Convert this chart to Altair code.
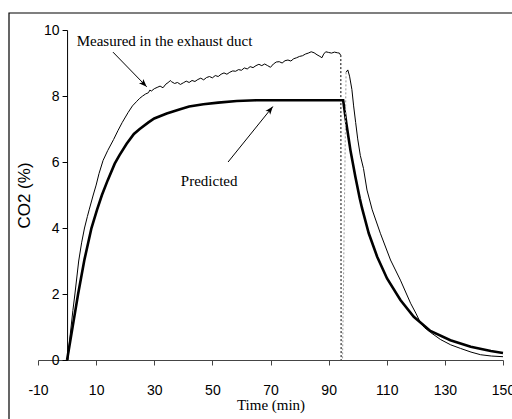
import math
import altair as alt
import pandas as pd

# ---------------- data ----------------
# Measured CO2 in the exhaust duct: rise + plateau
meas_rise_t = [0.3, 1, 2, 2.7, 4, 5, 6, 7, 7.6, 9, 10, 11, 12.4, 14, 16, 17.5, 19, 21, 22.5,
               24, 25, 26, 27, 28, 28.5, 29, 30, 31, 32, 33, 34, 35, 35.5, 36, 37, 38, 39, 40,
               41, 42, 43, 44, 45, 46, 47, 48, 49, 50, 51, 52, 53, 54, 55, 56, 57, 58, 59, 60,
               61, 62, 63, 64, 65, 66, 67, 68, 69, 70, 71, 72, 73, 74, 75, 76, 77, 78, 79, 80,
               81, 82, 83, 84, 85, 86, 87, 87.7, 88.3, 89, 90, 91, 92, 93, 93.7, 94.1]
meas_rise_v = [0.0, 0.7, 1.5, 2.0, 3.0, 3.55, 4.0, 4.35, 4.55, 5.0, 5.3, 5.65, 6.05, 6.35, 6.68,
               6.95, 7.2, 7.5, 7.7,
               7.84, 7.93, 8.0, 8.06, 8.1, 8.18, 8.15, 8.22, 8.26, 8.3, 8.25, 8.36, 8.42, 8.47,
               8.43, 8.38, 8.41, 8.35, 8.4, 8.45, 8.41, 8.47, 8.44, 8.5, 8.54, 8.49, 8.56, 8.59,
               8.55, 8.62, 8.59, 8.66, 8.7, 8.66, 8.72, 8.76, 8.75, 8.8, 8.78, 8.85, 8.82, 8.89,
               8.86, 8.92, 8.96, 8.92, 8.97, 8.92, 8.87, 8.97, 9.03, 9.04, 9.0, 9.07, 9.09,
               9.06, 9.13, 9.16, 9.2, 9.22, 9.27, 9.3, 9.34, 9.31, 9.25, 9.2, 9.16, 9.27, 9.34,
               9.32, 9.3, 9.33, 9.31, 9.3, 9.24]
# Measured CO2: decay after the burner stop
meas_fall_t = [96.0, 96.6, 97.2, 98.0, 98.6, 99.3, 100.0, 100.9, 102.0, 103.2, 105.0, 107.8,
               111.3, 114.7, 118.2, 120.0, 121.6, 123.0, 125.0, 128.5, 132.0, 135.4, 139.0,
               142.3, 146.0, 150.0]
meas_fall_v = [8.72, 8.79, 8.6, 8.2, 7.7, 7.2, 6.7, 6.2, 5.8, 5.15, 4.55, 3.84, 3.03, 2.42,
               1.72, 1.42, 1.13, 0.98, 0.84, 0.62, 0.46, 0.35, 0.24, 0.16, 0.12, 0.1]
# dotted transition segments of the measured record
gap_black_t = [94.2, 94.3]
gap_black_v = [9.24, 0.0]
gap_grey_t = [94.8, 96.0]
gap_grey_v = [0.05, 8.72]

# Predicted CO2
pred_t = [0, 2, 3.8, 6, 8.4, 10.3, 12, 14, 16.4, 18, 20.5, 23, 25, 28, 30, 34.3, 38.9, 42,
          46.9, 52, 58.4, 65, 80, 95.0, 96.1, 97.5, 99.2, 100.7, 101.5, 103.8, 106.7, 110.1,
          114.7, 119.3, 125.0, 131.9, 138.9, 145.8, 150.0]
pred_v = [0, 1.05, 2.0, 3.05, 4.0, 4.55, 5.0, 5.45, 5.95, 6.2, 6.55, 6.85, 7.0, 7.2, 7.32,
          7.47, 7.6, 7.68, 7.75, 7.8, 7.85, 7.87, 7.87, 7.87, 7.17, 6.36, 5.55, 4.9, 4.6, 3.84,
          3.13, 2.47, 1.82, 1.31, 0.88, 0.6, 0.4, 0.27, 0.21]

# annotations
ann_text = ["Measured in the exhaust duct", "Predicted"]
ann_t = [3.3, 48.9]
ann_v = [9.52, 5.42]
arrow_t0 = [15.8, 55.4]
arrow_v0 = [9.33, 6.0]
arrow_t1 = [27.4, 70.8]
arrow_v1 = [8.28, 7.68]

x_ticks = [-10, 10, 30, 50, 70, 90, 110, 130, 150]
y_ticks = [0, 2, 4, 6, 8, 10]
x_domain = [-10, 150]
y_domain = [0, 10]

# ---------------- layout ----------------
W, H = 465, 330
px_per_t = W / (x_domain[1] - x_domain[0])
px_per_v = H / (y_domain[1] - y_domain[0])
yaxis_offset = -(0 - x_domain[0]) * px_per_t

TICKF = "'Liberation Sans', Arial, sans-serif"
SERIF = "'Liberation Serif', 'Times New Roman', serif"
SANS = "'Liberation Sans', Arial, sans-serif"

xs = alt.Scale(domain=x_domain, nice=False, zero=False)
ys = alt.Scale(domain=y_domain, nice=False)

X = alt.X("t:Q", scale=xs, axis=alt.Axis(
    values=x_ticks, grid=False, title="Time (min)", tickSize=5, labelPadding=18,
    labelExpr="'' + datum.value",
    labelFont=TICKF, labelFontSize=14, labelColor="black", domainColor="#444",
    tickColor="#444", titleFont=SERIF, titleFontSize=15, titleFontWeight="normal",
    titleColor="black", titlePadding=0, labelFlush=False, labelOverlap=False))
Y = alt.Y("v:Q", scale=ys, axis=alt.Axis(
    values=y_ticks, grid=False, title="CO2 (%)", offset=yaxis_offset, tickSize=5,
    labelPadding=3, labelFont=TICKF, labelFontSize=14, labelColor="black",
    domainColor="black", tickColor="black", titleFont=SANS, titleFontSize=17,
    titleFontWeight="normal", titleColor="black", titlePadding=10, labelFlush=False))

meas_df = pd.DataFrame({
    "t": meas_rise_t + meas_fall_t,
    "v": meas_rise_v + meas_fall_v,
    "seg": ["rise"] * len(meas_rise_t) + ["fall"] * len(meas_fall_t),
})
pred_df = pd.DataFrame({"t": pred_t, "v": pred_v})
black_df = pd.DataFrame({"t": gap_black_t, "v": gap_black_v})
grey_df = pd.DataFrame({"t": gap_grey_t, "v": gap_grey_v})
ann_df = pd.DataFrame({"t": ann_t, "v": ann_v, "label": ann_text})

arr_rows = []
for i in range(len(arrow_t0)):
    arr_rows.append({"t": arrow_t0[i], "v": arrow_v0[i], "a": i, "o": 0})
    arr_rows.append({"t": arrow_t1[i], "v": arrow_v1[i], "a": i, "o": 1})
arr_df = pd.DataFrame(arr_rows)
head_df = pd.DataFrame({
    "t": arrow_t1, "v": arrow_v1,
    "ang": [math.degrees(math.atan2((arrow_t1[i] - arrow_t0[i]) * px_per_t,
                                    (arrow_v1[i] - arrow_v0[i]) * px_per_v)) % 360
            for i in range(len(arrow_t0))],
})

frame = alt.Chart(pd.DataFrame({"k": [0]})).mark_rect(
    filled=False, stroke="black", strokeWidth=1.2).encode(
    x=alt.value(-29), x2=alt.value(W + 60), y=alt.value(-17), y2=alt.value(H + 90))

meas = alt.Chart(meas_df).mark_line(color="black", strokeWidth=1.0).encode(
    x=X, y=Y, detail="seg:N")
pred = alt.Chart(pred_df).mark_line(color="black", strokeWidth=2.6).encode(x=X, y=Y)
gap_black = alt.Chart(black_df).mark_line(color="black", strokeWidth=1.0,
                                          strokeDash=[2, 2]).encode(x=X, y=Y)
gap_grey = alt.Chart(grey_df).mark_line(color="#999999", strokeWidth=1.0,
                                        strokeDash=[2, 2]).encode(x=X, y=Y)
arrows = alt.Chart(arr_df).mark_line(color="black", strokeWidth=1.0).encode(
    x=X, y=Y, detail="a:N", order="o:Q")
heads = alt.Chart(head_df).mark_point(
    shape="M0,0 L-0.38,1 L0,0.75 L0.38,1 Z", filled=True, color="black", opacity=1,
    size=256).encode(x=X, y=Y, angle=alt.Angle("ang:Q", scale=None))
meas_label = alt.Chart(ann_df).transform_filter(
    alt.datum.label == "Measured in the exhaust duct").mark_text(
    font=SERIF, fontSize=15, color="black", align="left", baseline="alphabetic").encode(
    x=X, y=Y, text="label:N")
pred_label = alt.Chart(ann_df).transform_filter(alt.datum.label == "Predicted").mark_text(
    font=SERIF, fontSize=15, color="black", align="center", baseline="middle").encode(
    x=X, y=Y, text="label:N")

chart = alt.layer(frame, pred, meas, gap_black, gap_grey, arrows, heads, meas_label,
                  pred_label).properties(
    width=W, height=H,
    autosize=alt.AutoSizeParams(type="none"),
    padding={"left": 38, "top": 30, "right": 9, "bottom": 59},
    background="white",
).configure_view(stroke=None)

chart.save("out.html", embed_options={"renderer": "svg", "actions": False})
